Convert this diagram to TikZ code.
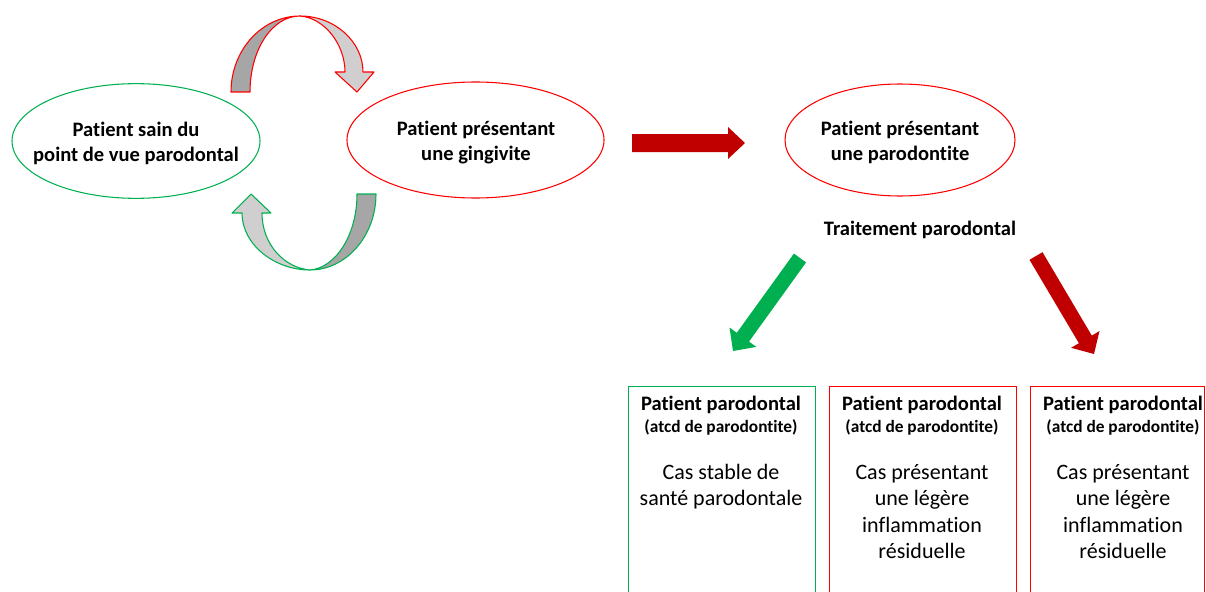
\documentclass[tikz,border=0pt]{standalone}
\usepackage{fontspec}
\setmainfont{Carlito}[Ligatures=NoCommon]
\usetikzlibrary{shapes.geometric}
\definecolor{gn}{HTML}{00B050}
\definecolor{rd}{HTML}{FF0000}
\definecolor{dred}{HTML}{C00000}
\definecolor{dgray}{HTML}{A6A6A6}
\definecolor{lgray}{HTML}{D0CECE}
\tikzset{
  ell/.style={ellipse, draw, line width=0.8pt, inner sep=0pt},
  bigtxt/.style={align=center, inner sep=0pt, font=\fontsize{15.4}{18.75}\selectfont\bfseries},
  subtxt/.style={align=center, inner sep=0pt, font=\fontsize{13}{15}\selectfont\bfseries},
  bodytxt/.style={align=center, inner sep=0pt, font=\fontsize{16.5}{19.8}\selectfont},
  casebox/.style={draw, line width=0.8pt, rectangle, inner sep=0pt, anchor=north west},
  ribbon/.style={line width=0.8pt, line join=round},
}
\begin{document}
\begin{tikzpicture}[x=0.75pt,y=-0.75pt]
\useasboundingbox (0,0) rectangle (1206,592);
% ellipses
\node[ell, draw=gn, minimum width=186pt, minimum height=86pt] (sain) at (136,141) {};
\node[bigtxt] (sainT) at (136,143.5) {Patient sain du\\point de vue parodontal};
\node[ell, draw=rd, minimum width=192.75pt, minimum height=87pt] (ging) at (475.5,140) {};
\node[bigtxt] (gingT) at (476,142.5) {Patient présentant\\une gingivite};
\node[ell, draw=rd, minimum width=172.5pt, minimum height=84pt] (paro) at (900,140) {};
\node[bigtxt] (paroT) at (900,142.5) {Patient présentant\\une parodontite};
\node[bigtxt] (trait) at (920,230) {Traitement parodontal};
% top curved arrow (red outline)
\filldraw[ribbon, draw=rd, fill=dgray] (231,92) .. controls (231,50) and (262,16) .. (300,16)
   .. controls (272,16) and (250,50) .. (250,92) -- cycle;
\filldraw[ribbon, draw=rd, fill=lgray] (300,16) .. controls (335,16) and (363,42) .. (363,72)
   -- (374,72) -- (357,92) -- (335,72) -- (345,72)
   .. controls (345,45) and (325,18) .. (300,16) -- cycle;
% bottom curved arrow (green outline)
\filldraw[ribbon, draw=gn, fill=dgray] (376,194) .. controls (376,236) and (346,270) .. (310,270)
   .. controls (335,268) and (357,236) .. (357,194) -- cycle;
\filldraw[ribbon, draw=gn, fill=lgray] (310,270) .. controls (275,270) and (242,245) .. (242,213)
   -- (232,213) -- (251,194) -- (271,213) -- (262,213)
   .. controls (262,245) and (285,268) .. (310,270) -- cycle;
% horizontal red arrow
\coordinate (h0) at (632,143);
\coordinate (h1) at (745,143);
\fill[dred] (632,134) -- (728,134) -- (728,127) -- (h1) -- (728,159) -- (728,152) -- (632,152) -- cycle;
% green diagonal arrow
\fill[gn] (793.9,253.6) -- (806.1,262.4) -- (749,341.6) -- (756.3,346.9) -- (733,351) -- (729.5,327.5) -- (736.8,332.8) -- cycle;
% red diagonal arrow
\fill[dred] (1029.5,259.8) -- (1042.5,252.2) -- (1091.8,335.6) -- (1099.5,331) -- (1094,354) -- (1071.1,347.8) -- (1078.9,343.2) -- cycle;
% boxes
\node[casebox, draw=gn, minimum width=140.25pt, minimum height=160pt] (b1) at (628,386) {};
\node[casebox, draw=rd, minimum width=140.25pt, minimum height=160pt] (b2) at (829,386) {};
\node[casebox, draw=rd, minimum width=130.5pt, minimum height=160pt] (b3) at (1030,386) {};
% box texts
\node[bigtxt] (t1) at (721,405) {Patient parodontal};
\node[subtxt] (s1) at (721,427) {(atcd de parodontite)};
\node[bodytxt, anchor=north] (c1) at (721,464) {Cas stable de\\santé parodontale};
\node[bigtxt] (t2) at (922,405) {Patient parodontal};
\node[subtxt] (s2) at (922,427) {(atcd de parodontite)};
\node[bodytxt, anchor=north] (c2) at (922,464) {Cas présentant\\une légère\\inflammation\\résiduelle};
\node[bigtxt] (t3) at (1123,405) {Patient parodontal};
\node[subtxt] (s3) at (1123,427) {(atcd de parodontite)};
\node[bodytxt, anchor=north] (c3) at (1123,464) {Cas présentant\\une légère\\inflammation\\résiduelle};
\end{tikzpicture}
\end{document}
